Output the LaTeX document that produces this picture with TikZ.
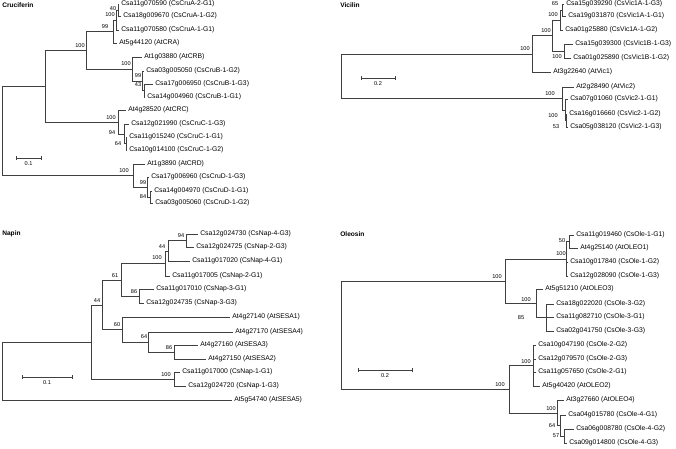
\documentclass[tikz,border=0pt]{standalone}
\usepackage{fontspec}
\setmainfont{Liberation Sans}
\begin{document}
\begin{tikzpicture}[x=1pt,y=-1pt,line width=0.6pt,
  br/.style={draw=black!75},
  leaf/.style={anchor=west,inner sep=0pt,font=\fontsize{6.8}{7}\selectfont},
  bs/.style={inner sep=0pt,font=\fontsize{5.6}{6}\selectfont},
  ttl/.style={anchor=west,inner sep=0pt,font=\fontsize{6.6}{7}\selectfont\bfseries}]
\useasboundingbox (0,0) rectangle (676,448);
\newcommand\vl[3]{\draw[br] (#1,#2) -- (#1,#3);}
\newcommand\hl[3]{\draw[br] (#1,#3) -- (#2,#3);}
\newcommand\lf[4]{\draw[br] (#1,#2) -- (#3-2,#2); \node[leaf] at (#3,#2) {#4};}
\newcommand\bs[3]{\node[bs] at (#1,#2) {#3};}
\newcommand\sbar[5]{\draw[br] (#1,#3) -- (#2,#3); \draw[br] (#1,#3-2) -- (#1,#3+2); \draw[br] (#2,#3-2) -- (#2,#3+2); \node[bs] at ({(#1+#2)/2},#4) {#5};}
% ---------- Cruciferin
\node[ttl] (t1) at (2,5) {Cruciferin};
\vl{2}{86}{175}
\hl{2}{45}{86} \vl{45}{50}{122}
\hl{45}{86}{50} \vl{86}{31.5}{69}
\hl{86}{113}{31.5} \vl{113}{20}{43} \lf{113}{43}{119}{At5g44120 (AtCRA)}
\hl{113}{116}{20} \vl{116}{10}{30} \lf{116}{30}{121}{Csa11g070580 (CsCruA-1-G1)}
\hl{116}{118}{10} \vl{118}{4}{16} \lf{118}{4}{121}{Csa11g070590 (CsCruA-2-G1)} \lf{118}{16}{123}{Csa18g009670 (CsCruA-1-G2)}
\bs{113}{9}{40} \bs{110}{15}{100} \bs{105}{27}{99} \bs{80}{46}{100}
\hl{86}{132}{69} \vl{132}{57}{81} \lf{132}{57}{144}{At1g03880 (AtCRB)}
\hl{132}{142}{81} \vl{142}{71}{90} \lf{142}{71}{146}{Csa03g005050 (CsCruB-1-G2)}
\hl{142}{144}{90} \vl{144}{84}{97} \lf{144}{84}{155}{Csa17g006950 (CsCruB-1-G3)} \lf{144}{97}{147}{Csa14g004960 (CsCruB-1-G1)}
\bs{126}{64}{100} \bs{138}{76}{99} \bs{138}{85}{43}
\hl{45}{118}{122} \vl{118}{110}{134} \lf{118}{110}{128}{At4g28520 (AtCRC)}
\hl{118}{124}{134} \vl{124}{124}{143} \lf{124}{124}{131}{Csa12g021990 (CsCruC-1-G3)}
\hl{124}{126}{143} \vl{126}{137}{150} \lf{126}{137}{129}{Csa11g015240 (CsCruC-1-G1)} \lf{126}{150}{129}{Csa10g014100 (CsCruC-1-G2)}
\bs{111}{118}{100} \bs{112}{133}{94} \bs{118}{144}{64}
\hl{2}{133}{175} \vl{133}{164}{187} \lf{133}{164}{147}{At1g3890 (AtCRD)}
\hl{133}{147}{187} \vl{147}{177}{197} \lf{147}{177}{151}{Csa17g006960 (CsCruD-1-G3)}
\hl{147}{150}{197} \vl{150}{191}{203} \lf{150}{191}{154}{Csa14g004970 (CsCruD-1-G1)} \lf{150}{203}{155}{Csa03g005060 (CsCruD-1-G2)}
\bs{124}{171}{100} \bs{143}{183}{99} \bs{143}{197}{84}
\sbar{16}{41}{158}{164}{0.1}
% ---------- Vicilin
\node[ttl] (t2) at (340,5) {Vicilin};
\vl{341}{54}{98}
\hl{341}{532}{54} \vl{532}{35}{72} \lf{532}{72}{553}{At3g22640 (AtVic1)}
\hl{532}{552}{35} \vl{552}{20}{51}
\hl{552}{560}{20} \vl{560}{10}{30} \lf{560}{30}{565}{Csa01g25880 (CsVic1A-1-G2)}
\hl{560}{562}{10} \vl{562}{4}{16} \lf{562}{4}{566}{Csa15g039290 (CsVic1A-1-G3)} \lf{562}{16}{568}{Csa19g031870 (CsVic1A-1-G1)}
\hl{552}{564}{51} \vl{564}{44}{58} \lf{564}{44}{575}{Csa15g039300 (CsVic1B-1-G3)} \lf{564}{58}{573}{Csa01g025890 (CsVic1B-1-G2)}
\bs{525}{49}{100} \bs{546}{31}{100} \bs{553}{15}{100} \bs{555}{4}{65} \bs{557}{57}{100}
\hl{341}{562}{98} \vl{562}{87}{110} \lf{562}{87}{576}{At2g28490 (AtVic2)}
\hl{562}{565}{110} \vl{565}{99}{120} \lf{565}{99}{570}{Csa07g01060 (CsVic2-1-G1)}
\hl{565}{566}{120} \vl{566}{114}{127} \lf{566}{114}{569}{Csa16g016660 (CsVic2-1-G2)} \lf{566}{127}{570}{Csa05g038120 (CsVic2-1-G3)}
\bs{550}{94}{100} \bs{553}{116}{100} \bs{556}{127}{53}
\sbar{361}{395}{78}{84}{0.2}
% ---------- Napin
\node[ttl] (t3) at (2,234) {Napin};
\vl{2}{342}{400} \lf{2}{400}{234}{At5g54740 (AtSESA5)}
\hl{2}{91}{342} \vl{91}{305}{379}
\hl{91}{102}{305} \vl{102}{280}{329.5}
\hl{102}{121}{280} \vl{121}{263}{296}
\hl{121}{165}{263} \vl{165}{251}{276} \lf{165}{276}{172}{Csa11g017005 (CsNap-2-G1)}
\hl{165}{168}{251} \vl{168}{240.5}{261} \lf{168}{261}{192}{Csa11g017020 (CsNap-4-G1)}
\hl{168}{186}{240.5} \vl{186}{234}{247} \lf{186}{234}{200}{Csa12g024730 (CsNap-4-G3)} \lf{186}{247}{196}{Csa12g024725 (CsNap-2-G3)}
\hl{121}{139}{296} \vl{139}{289}{303} \lf{139}{289}{156}{Csa11g017010 (CsNap-3-G1)} \lf{139}{303}{146}{Csa12g024735 (CsNap-3-G3)}
\hl{102}{122}{329.5} \vl{122}{317}{342} \lf{122}{317}{232}{At4g27140 (AtSESA1)}
\hl{122}{148}{342} \vl{148}{332}{352} \lf{148}{332}{235}{At4g27170 (AtSESA4)}
\hl{148}{174}{352} \vl{174}{345}{359} \lf{174}{345}{200}{At4g27160 (AtSESA3)} \lf{174}{359}{208}{At4g27150 (AtSESA2)}
\hl{91}{174}{379} \vl{174}{372}{386} \lf{174}{372}{182}{Csa11g017000 (CsNap-1-G1)} \lf{174}{386}{188}{Csa12g024720 (CsNap-1-G3)}
\bs{181}{236}{94} \bs{162}{247}{44} \bs{157}{258}{100} \bs{134}{292}{86} \bs{115}{276}{61}
\bs{169}{348}{86} \bs{144}{337}{64} \bs{117}{325}{60} \bs{97}{301}{44} \bs{166}{375}{100}
\sbar{22}{72}{377}{383}{0.1}
% ---------- Oleosin
\node[ttl] (t4) at (340,234) {Oleosin};
\vl{341}{281}{389}
\hl{341}{505}{281} \vl{505}{259}{303}
\hl{505}{566}{259} \vl{566}{241.5}{276} \lf{566}{262}{570}{Csa10g017840 (CsOle-1-G2)} \lf{566}{276}{570}{Csa12g028090 (CsOle-1-G3)}
\hl{566}{569}{241.5} \vl{569}{235}{248} \lf{569}{235}{576}{Csa11g019460 (CsOle-1-G1)} \lf{569}{248}{580}{At4g25140 (AtOLEO1)}
\hl{505}{536}{303} \vl{536}{289}{317} \lf{536}{289}{545}{At5g51210 (AtOLEO3)}
\hl{536}{546}{317} \vl{546}{304}{331} \lf{546}{304}{556}{Csa18g022020 (CsOle-3-G2)} \lf{546}{317}{556}{Csa11g082710 (CsOle-3-G1)} \lf{546}{331}{556}{Csa02g041750 (CsOle-3-G3)}
\bs{562}{241}{50} \bs{561}{254}{100} \bs{497}{277}{100} \bs{526}{300}{100} \bs{521}{318}{85}
\hl{341}{509}{389} \vl{509}{365.5}{413}
\hl{509}{533}{365.5} \vl{533}{345}{386}
\lf{533}{345}{538}{Csa10g047190 (CsOle-2-G2)} \lf{533}{359}{538}{Csa12g079570 (CsOle-2-G3)} \lf{533}{372}{538}{Csa11g057650 (CsOle-2-G1)} \lf{533}{386}{542}{At5g40420 (AtOLEO2)}
\hl{509}{557}{413} \vl{557}{400}{425.5} \lf{557}{400}{566}{At3g27660 (AtOLEO4)}
\hl{557}{560}{425.5} \vl{560}{415}{436} \lf{560}{415}{568}{Csa04g015780 (CsOle-4-G1)}
\hl{560}{564}{436} \vl{564}{429}{443} \lf{564}{429}{576}{Csa06g008780 (CsOle-4-G2)} \lf{564}{443}{569}{Csa09g014800 (CsOle-4-G3)}
\bs{500}{385}{100} \bs{526}{362}{100} \bs{551}{409}{100} \bs{552}{426}{64} \bs{556}{436}{57}
\sbar{358}{412}{370}{376}{0.2}
\end{tikzpicture}
\end{document}
